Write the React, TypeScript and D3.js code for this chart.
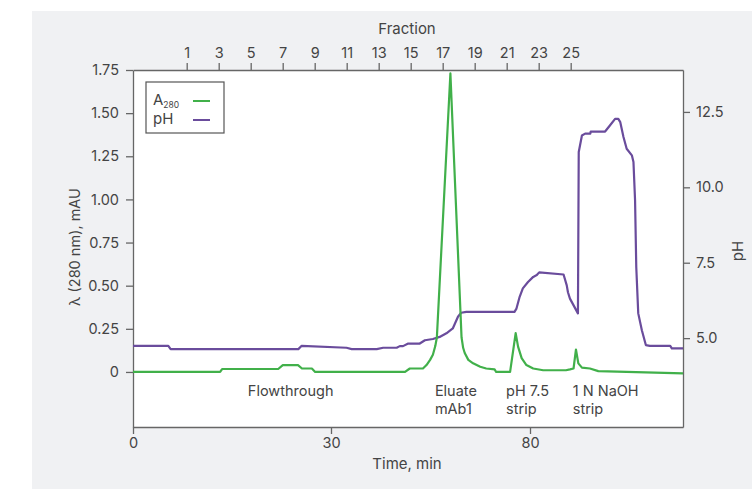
import React, { useRef, useEffect } from 'react';
import * as d3 from 'd3';

// A280 trace (time in min, absorbance)
const a280Time = [0, 13.2, 13.5, 22.0, 22.7, 25.0, 25.6, 27.1, 27.6, 48.6, 49.8, 53.1, 54.0, 54.9, 55.6, 56.2, 56.6, 60.0, 62.8, 63.2, 63.6, 64.5, 65.7, 67.5, 69.0, 71.1, 71.5, 75.0, 76.4, 77.0, 77.9, 79.1, 80.8, 83.3, 89.0, 90.0, 90.9, 91.5, 92.1, 93.0, 95.0, 97.1, 118.3];
const a280Value = [0, 0, 0.017, 0.017, 0.04, 0.04, 0.02, 0.02, 0, 0, 0.02, 0.02, 0.04, 0.07, 0.1, 0.15, 0.2, 1.73, 0.2, 0.14, 0.11, 0.07, 0.05, 0.03, 0.02, 0.015, 0, 0, 0.225, 0.147, 0.08, 0.04, 0.02, 0.01, 0.01, 0.015, 0.02, 0.13, 0.05, 0.025, 0.02, 0.005, -0.008];

// pH trace
const phTime = [0, 5.35, 5.7, 25.05, 25.56, 33.9, 35.2, 41.5, 43.1, 46.5, 47.3, 48.1, 49.4, 52.3, 53.6, 55.6, 57.3, 59.0, 60.6, 61.9, 62.7, 64.0, 76.1, 76.6, 77.4, 78.2, 79.5, 80.8, 81.7, 82.3, 88.4, 89.2, 89.5, 90.0, 92.0, 92.2, 93.0, 93.8, 95.1, 95.2, 98.8, 100.0, 101.3, 102.1, 102.6, 103.4, 104.2, 105.5, 105.9, 106.3, 106.6, 107.1, 108.0, 109.0, 110.0, 115.1, 115.5, 118.3];
const phValue = [4.745, 4.745, 4.636, 4.636, 4.745, 4.68, 4.636, 4.636, 4.68, 4.68, 4.735, 4.735, 4.82, 4.82, 4.93, 4.97, 5.04, 5.16, 5.32, 5.71, 5.84, 5.87, 5.87, 5.98, 6.37, 6.65, 6.86, 7.03, 7.09, 7.18, 7.11, 6.75, 6.52, 6.31, 5.82, 11.17, 11.72, 11.78, 11.78, 11.85, 11.85, 12.05, 12.27, 12.27, 12.16, 11.67, 11.28, 11.06, 10.84, 9.57, 7.36, 5.82, 5.26, 4.77, 4.745, 4.745, 4.66, 4.66];

const timeTicks = [0, 30, 80];
const fractionTicks = [1, 3, 5, 7, 9, 11, 13, 15, 17, 19, 21, 23, 25];
const absTicks = [0, 0.25, 0.5, 0.75, 1.0, 1.25, 1.5, 1.75];
const phTicks = [5, 7.5, 10, 12.5];

const regionTime = [17.4, 56.1, 74.0, 90.7];
const regionLabels = [["Flowthrough"], ["Eluate", "mAb1"], ["pH 7.5", "strip"], ["1 N NaOH", "strip"]];

const GREEN = "#41b04a";
const PURPLE = "#6a4c9c";
const AXIS = "#666";
const TEXT = "#444";
const FONT = "Inter, 'Noto Sans', sans-serif";

const App = () => {
    const svgRef = useRef(null);

    useEffect(() => {
        const svg = d3.select(svgRef.current);
        svg.selectAll("*").remove();

        const left = 133, right = 683, top = 70, bottom = 427;

        // time axis is piecewise (0-30 min is stretched)
        const x = d3.scaleLinear().domain([0, 30, 80, 118.3]).range([left, 331, 530, right]);
        const xf = d3.scaleLinear().domain([-2.356, 32.02]).range([left, right]);
        const y = d3.scaleLinear().domain([-0.319, 1.75]).range([bottom, top]);
        const yph = d3.scaleLinear().domain([2.053, 13.89]).range([bottom, top]);

        // backgrounds
        svg.append("rect").attr("x", 32).attr("y", 11).attr("width", 720).attr("height", 478).attr("fill", "#f0f1f3");
        svg.append("rect").attr("x", left).attr("y", top).attr("width", right - left).attr("height", bottom - top).attr("fill", "#fff");

        const styleAxis = (g, size = 14) => {
            g.select(".domain").attr("stroke", AXIS).attr("stroke-width", 1.3);
            g.selectAll(".tick line").attr("stroke", AXIS).attr("stroke-width", 1.3);
            g.selectAll(".tick text").attr("fill", TEXT).attr("font-size", size).attr("font-family", FONT);
        };

        // bottom time axis
        svg.append("g")
            .attr("transform", `translate(0,${bottom})`)
            .call(d3.axisBottom(x).tickValues(timeTicks).tickSize(7).tickSizeOuter(0).tickPadding(4))
            .call(g => styleAxis(g, 14.5));

        // top fraction axis
        svg.append("g")
            .attr("transform", `translate(0,${top})`)
            .call(d3.axisTop(xf).tickValues(fractionTicks).tickSize(7).tickSizeOuter(0).tickPadding(5))
            .call(g => styleAxis(g, 14.5));

        // left absorbance axis
        svg.append("g")
            .attr("transform", `translate(${left},0)`)
            .call(d3.axisLeft(y).tickValues(absTicks).tickSize(7).tickSizeOuter(0).tickPadding(7)
                .tickFormat(d => d === 0 ? "0" : d3.format(".2f")(d)))
            .call(g => styleAxis(g, 14.5));

        // right pH axis
        svg.append("g")
            .attr("transform", `translate(${right},0)`)
            .call(d3.axisRight(yph).tickValues(phTicks).tickSize(7).tickSizeOuter(0).tickPadding(6)
                .tickFormat(d3.format(".1f")))
            .call(g => styleAxis(g, 14.5));

        // axis titles
        const title = (tx, ty, txt, rot = 0, size = 15) => svg.append("text")
            .attr("transform", `translate(${tx},${ty}) rotate(${rot})`)
            .attr("text-anchor", "middle")
            .attr("font-family", FONT)
            .attr("font-size", size)
            .attr("fill", TEXT)
            .text(txt);
        title(407, 34, "Fraction");
        title(407, 469, "Time, min");
        title(80, 247, "λ (280 nm), mAU", -90, 14.5);
        title(743, 251, "pH", -90);

        // traces
        const a280 = a280Time.map((t, i) => [t, a280Value[i]]);
        const ph = phTime.map((t, i) => [t, phValue[i]]);

        svg.append("path")
            .datum(ph)
            .attr("fill", "none")
            .attr("stroke", PURPLE)
            .attr("stroke-width", 2.2)
            .attr("stroke-linejoin", "round")
            .attr("d", d3.line().x(d => x(d[0])).y(d => yph(d[1])));

        svg.append("path")
            .datum(a280)
            .attr("fill", "none")
            .attr("stroke", GREEN)
            .attr("stroke-width", 2.2)
            .attr("stroke-linejoin", "round")
            .attr("d", d3.line().x(d => x(d[0])).y(d => y(d[1])));

        // region labels, one text per line
        regionLabels.forEach((lines, i) => {
            lines.forEach((ln, j) => {
                svg.append("text")
                    .attr("x", x(regionTime[i]))
                    .attr("y", 396 + j * 18)
                    .attr("font-family", FONT)
                    .attr("font-size", 14.5)
                    .attr("fill", TEXT)
                    .text(ln);
            });
        });

        // legend
        const lg = svg.append("g");
        lg.append("rect").attr("x", 146).attr("y", 82).attr("width", 78).attr("height", 51)
            .attr("fill", "#fff").attr("stroke", "#555").attr("stroke-width", 1.2);
        const aText = lg.append("text").attr("x", 153).attr("y", 105)
            .attr("font-family", FONT).attr("font-size", 15).attr("fill", TEXT);
        aText.append("tspan").text("A");
        aText.append("tspan").attr("font-size", 8.5).attr("dy", 3).text("280");
        lg.append("text").attr("x", 153).attr("y", 124)
            .attr("font-family", FONT).attr("font-size", 15).attr("fill", TEXT).text("pH");
        lg.append("line").attr("x1", 193).attr("x2", 210).attr("y1", 101).attr("y2", 101)
            .attr("stroke", GREEN).attr("stroke-width", 2);
        lg.append("line").attr("x1", 193).attr("x2", 210).attr("y1", 120).attr("y2", 120)
            .attr("stroke", PURPLE).attr("stroke-width", 2);
    }, []);

    return (
        <svg ref={svgRef} width={752} height={489}
            style={{ position: 'absolute', left: 0, top: 0, background: '#fff' }} />
    );
};

export default App;
